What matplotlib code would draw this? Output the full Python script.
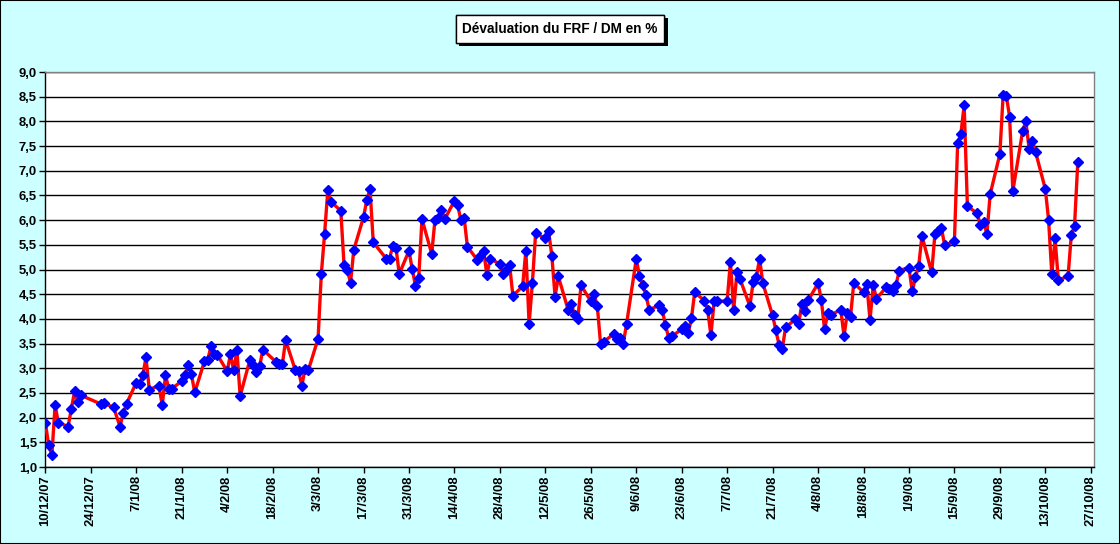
import matplotlib
matplotlib.use("Agg")
import matplotlib.pyplot as plt
import matplotlib.patheffects as pe
from matplotlib import font_manager
from matplotlib.patches import Rectangle
from matplotlib.ticker import FuncFormatter, MultipleLocator
import pandas as pd

# business days without a quote
missing_days = ['2007-12-24', '2007-12-25', '2007-12-26', '2008-01-01',
                '2008-02-18', '2008-03-21']

# devaluation FRF / DM in %, one value per quoted day
values = [
    1.90, 1.45, 1.24, 2.25, 1.90,          # 10-14/12
    1.82, 2.17, 2.53, 2.32, 2.45,          # 17-21/12
    2.28, 2.29, 2.21, 1.82, 2.09, 2.28,    # 27/12-4/1
    2.71, 2.69, 2.86, 3.22, 2.57,
    2.65, 2.25, 2.86, 2.59, 2.59,
    2.74, 2.86, 3.06, 2.88, 2.51,
    3.14, 3.16, 3.45, 3.28, 3.27,
    2.94, 3.28, 2.96, 3.36, 2.44,
    3.17, 3.06, 2.92, 3.04, 3.38,
    3.13, 3.08, 3.08, 3.57,                # 19-22/2
    2.96, 2.94, 2.65, 2.99, 2.96,
    3.60, 4.91, 5.72, 6.61, 6.37,          # 3/3
    6.19, 5.09, 4.99, 4.73, 5.40,
    6.06, 6.41, 6.63, 5.55,                # 17-20/3
    5.22, 5.22, 5.48, 5.44, 4.91,
    5.38, 5.01, 4.67, 4.83, 6.02,          # 31/3
    5.32, 6.00, 6.05, 6.21, 6.02,
    6.39, 6.30, 6.00, 6.04, 5.46,
    5.20, 5.27, 5.37, 4.89, 5.22,
    5.11, 4.91, 4.99, 5.09, 4.47,          # 28/4
    4.66, 5.38, 3.90, 4.72, 5.73,
    5.63, 5.78, 5.28, 4.45, 4.86,
    4.19, 4.31, 4.08, 4.00, 4.68,
    4.36, 4.50, 4.27, 3.50, 3.54,          # 26/5
    3.69, 3.60, 3.62, 3.50, 3.89,
    5.21, 4.87, 4.68, 4.48, 4.18,
    4.28, 4.19, 3.87, 3.62, 3.65,
    3.79, 3.85, 3.71, 4.01, 4.54,
    4.37, 4.18, 3.67, 4.36, 4.36,          # 30/6
    4.36, 5.16, 4.18, 4.94, 4.80,
    4.26, 4.74, 4.85, 5.22, 4.72,
    4.07, 3.77, 3.47, 3.40, 3.83,
    3.99, 3.89, 4.30, 4.16, 4.38,          # 28/7
    4.72, 4.39, 3.79, 4.11, 4.08,
    4.19, 3.65, 4.12, 4.04, 4.73,
    4.54, 4.71, 3.98, 4.68, 4.41,
    4.64, 4.61, 4.56, 4.68, 4.98,
    5.04, 4.56, 4.84, 5.07, 5.68,          # 1/9
    4.94, 5.72, 5.79, 5.84, 5.49,
    5.57, 7.56, 7.75, 8.33, 6.28,
    6.14, 5.90, 5.97, 5.72, 6.52,
    7.34, 8.53, 8.52, 8.09, 6.59,          # 29/9
    7.80, 8.00, 7.45, 7.61, 7.38,
    6.63, 6.01, 4.90, 5.63, 4.79,
    4.86, 5.69, 5.89, 7.17,                # 20-23/10
]

dates = pd.bdate_range('2007-12-10', '2008-10-23')
dates = dates[~dates.isin(pd.to_datetime(missing_days))]

tick_dates = pd.date_range('2007-12-10', '2008-10-27', freq='14D')
tick_labels = [f"{d.day}/{d.month}/{d:%y}" for d in tick_dates]

# the original uses a narrow bold Arial; use Liberation Sans Narrow if it is there
try:
    narrow = font_manager.findfont(font_manager.FontProperties(family='Liberation Sans Narrow',
                                                               weight='bold'),
                                   fallback_to_default=False)
except ValueError:
    narrow = None
if narrow and 'Narrow' in narrow:
    plt.rcParams['font.family'] = ['Liberation Sans Narrow', 'DejaVu Sans']
    lab_size = 10.5
else:
    plt.rcParams['font.family'] = ['Liberation Sans', 'DejaVu Sans']
    lab_size = 9.4

fig = plt.figure(figsize=(11.2, 5.44), dpi=100, facecolor='#CCFFFF')
fig.patches.append(Rectangle((0, 0), 1, 1, transform=fig.transFigure,
                             fill=False, edgecolor='black', linewidth=1.5))

ax = fig.add_axes([0.0405, 0.1415, 0.9363, 0.7261])
ax.set_facecolor('white')

ax.plot(dates, values, color='#FF0000', linewidth=2.4, zorder=3)
ax.plot(dates, values, linestyle='none', marker='D', markersize=5.4,
        color='#0000FF', markeredgecolor='#0000FF', zorder=4)

ax.set_ylim(1.0, 9.0)
ax.yaxis.set_major_locator(MultipleLocator(0.5))
ax.yaxis.set_major_formatter(FuncFormatter(lambda v, p: f"{v:.1f}".replace('.', ',')))
ax.grid(axis='y', color='black', linewidth=1.0, zorder=1)

ax.set_xlim(pd.Timestamp('2007-12-10'), pd.Timestamp('2008-10-28'))
ax.set_xticks(tick_dates)
ax.set_xticklabels(tick_labels, rotation=90)

for lab in ax.get_xticklabels() + ax.get_yticklabels():
    lab.set_fontweight('bold')
    lab.set_fontsize(lab_size)

ax.tick_params(axis='both', direction='out', length=4, width=1, color='black', pad=2)
ax.spines['left'].set_color('black')
ax.spines['bottom'].set_color('black')
ax.spines['top'].set_color('#808080')
ax.spines['right'].set_color('#808080')
for s in ax.spines.values():
    s.set_linewidth(1.0)

title = fig.text(0.5, 0.947, 'Dévaluation du FRF / DM en %', ha='center', va='center',
                 fontsize=lab_size + 0.4, fontweight='bold',
                 bbox=dict(boxstyle='square,pad=0.5', facecolor='white',
                           edgecolor='black', linewidth=1))
title.get_bbox_patch().set_path_effects(
    [pe.withSimplePatchShadow(offset=(2.5, -2.5), shadow_rgbFace='black', alpha=1.0),
     pe.Normal()])

fig.savefig('out.png', dpi=100, facecolor=fig.get_facecolor())
